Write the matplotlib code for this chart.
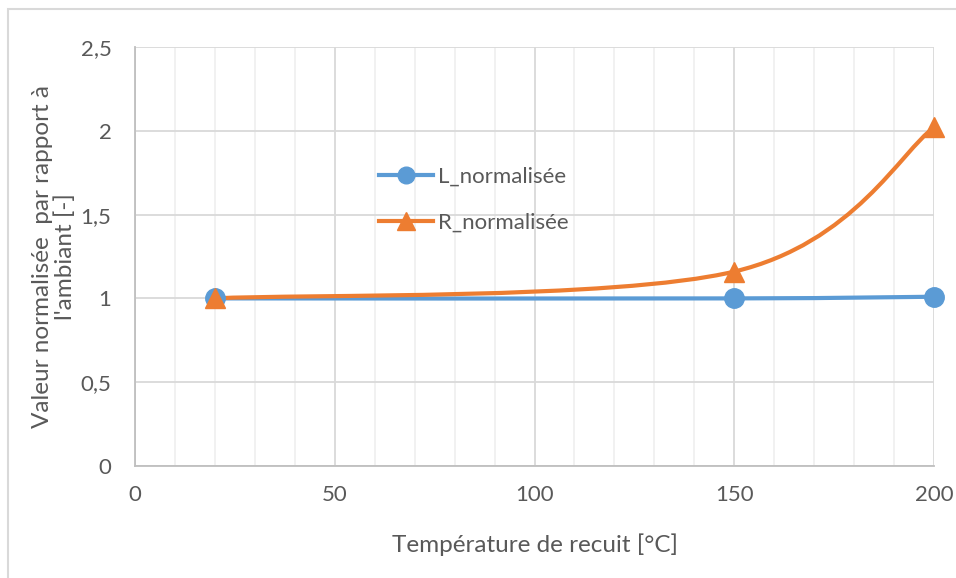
import matplotlib.pyplot as plt
from matplotlib.path import Path
from matplotlib.patches import PathPatch, Rectangle
from matplotlib.lines import Line2D
import numpy as np

plt.rcParams['font.family'] = ['Lato', 'DejaVu Sans']

# donnees
temperature = [20, 150, 200]
L_norm = [1.0, 1.0, 1.01]
R_norm = [1.0, 1.16, 2.02]

x_ticks = [0, 50, 100, 150, 200]
y_ticks = [0, 0.5, 1, 1.5, 2, 2.5]
y_labels = ['0', '0,5', '1', '1,5', '2', '2,5']

blue = '#5B9BD5'
orange = '#ED7D31'
txt = '#595959'


# courbe lissee type Excel (Bezier / Catmull-Rom) a partir des points
def smoothPath(x, y):
    p = np.column_stack([x, y]).astype(float)
    n = len(p)
    verts = [p[0]]
    codes = [Path.MOVETO]
    for i in range(n - 1):
        p0 = p[i - 1] if i > 0 else p[i]
        p1 = p[i]
        p2 = p[i + 1]
        p3 = p[i + 2] if i + 2 < n else p[i + 1]
        c1 = p1 + (p2 - p0) / 6
        c2 = p2 - (p3 - p1) / 6
        verts += [c1, c2, p2]
        codes += [Path.CURVE4] * 3
    return Path(verts, codes)


fig = plt.figure(figsize=(9.56, 5.78), dpi=100)
fig.patches.append(Rectangle((8 / 956, -0.1), 1.2, 1 - 9 / 578 + 0.1,
                             transform=fig.transFigure, fill=False,
                             edgecolor='#D9D9D9', linewidth=1.5))
ax = fig.add_axes([135 / 956, 1 - 466 / 578, 799 / 956, 419 / 578])

ax.set_xlim(0, 200)
ax.set_ylim(0, 2.5)
ax.set_xticks(x_ticks)
ax.set_xticks(np.arange(0, 201, 10), minor=True)
ax.set_yticks(y_ticks)
ax.set_yticklabels(y_labels)
ax.grid(True, which='major', color='#D9D9D9', linewidth=1.3)
ax.grid(True, which='minor', axis='x', color='#F0F0F0', linewidth=1.3)
ax.set_axisbelow(True)
ax.tick_params(which='both', length=0, labelsize=16, colors=txt)
ax.tick_params(axis='x', pad=14)
ax.tick_params(axis='y', pad=17)
for s in ['top', 'right']:
    ax.spines[s].set_visible(False)
for s in ['left', 'bottom']:
    ax.spines[s].set_color('#BFBFBF')
    ax.spines[s].set_linewidth(1.3)

ax.add_patch(PathPatch(smoothPath(temperature, L_norm), fill=False,
                       edgecolor=blue, linewidth=3, capstyle='round', zorder=3))
ax.add_patch(PathPatch(smoothPath(temperature, R_norm), fill=False,
                       edgecolor=orange, linewidth=3, capstyle='round', zorder=3))
ax.plot(temperature, L_norm, linestyle='none', marker='o', markersize=14,
        color=blue, clip_on=False, zorder=4)
ax.plot(temperature, R_norm, linestyle='none', marker='^', markersize=15,
        color=orange, clip_on=False, zorder=5)

handles = [Line2D([], [], color=blue, linewidth=3, marker='o', markersize=12),
           Line2D([], [], color=orange, linewidth=3, marker='^', markersize=13)]
fig.legend(handles, ['L_normalisée', 'R_normalisée'], loc='upper left',
           bbox_to_anchor=(370 / 956, 1 - 158 / 578), frameon=False,
           fontsize=16, labelcolor=txt, handlelength=2.45, handletextpad=0.2,
           labelspacing=1.15, borderaxespad=0)

ax.set_xlabel('Température de recuit [°C]', fontsize=17.5, color=txt, labelpad=20)
ax.set_ylabel("Valeur normalisée  par rapport à\nl'ambiant [-]", fontsize=17.5,
              color=txt, labelpad=3, linespacing=1.1)

plt.savefig('out.png', dpi=100)
